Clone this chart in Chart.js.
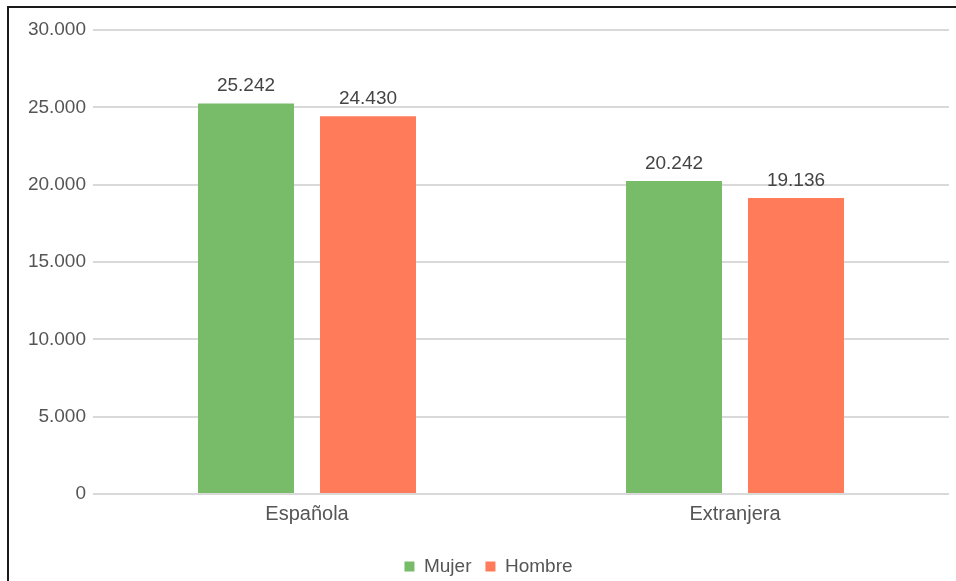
<!DOCTYPE html>
<html>
<head>
<meta charset="utf-8">
<script src="https://cdn.jsdelivr.net/npm/chart.js@4"></script>
<style>
  html, body { margin:0; padding:0; background:#fff; }
  #wrap { position:absolute; left:0; top:0; width:956px; height:581px; }
  #frame { position:absolute; left:7px; top:6px; width:960px; height:600px;
           border-left:2px solid #1a1a1a; border-top:2px solid #1a1a1a; pointer-events:none; }
  canvas { position:absolute; left:0; top:0; }
</style>
</head>
<body>
<div id="wrap">
  <canvas id="c" width="956" height="581"></canvas>
  <div id="frame"></div>
</div>
<script>
const categories = ['Española', 'Extranjera'];
const seriesNames = ['Mujer', 'Hombre'];
const mujer = [25242, 20242];
const hombre = [24430, 19136];
const valueLabels = [['25.242', '20.242'], ['24.430', '19.136']];
const yTickLabels = ['0', '5.000', '10.000', '15.000', '20.000', '25.000', '30.000'];
const colors = ['#78bb68', '#ff7b5a'];

const FONT = '"Liberation Sans", Arial, sans-serif';

const valueLabelPlugin = {
  id: 'valueLabels',
  afterDatasetsDraw(chart) {
    const ctx = chart.ctx;
    ctx.save();
    ctx.font = '19px ' + FONT;
    ctx.fillStyle = '#444444';
    ctx.textAlign = 'center';
    ctx.textBaseline = 'bottom';
    chart.data.datasets.forEach((ds, di) => {
      chart.getDatasetMeta(di).data.forEach((bar, i) => {
        ctx.fillText(valueLabels[di][i], bar.x, bar.y - 8);
      });
    });
    ctx.restore();
  }
};

new Chart(document.getElementById('c'), {
  type: 'bar',
  data: {
    labels: categories,
    datasets: [
      { label: seriesNames[0], data: mujer, backgroundColor: colors[0] },
      { label: seriesNames[1], data: hombre, backgroundColor: colors[1] }
    ]
  },
  options: {
    responsive: false,
    animation: false,
    devicePixelRatio: 1,
    layout: { padding: { left: 28, right: 7, top: 30, bottom: -5 } },
    datasets: { bar: { categoryPercentage: 0.570, barPercentage: 0.787 } },
    plugins: {
      legend: {
        position: 'bottom',
        labels: {
          font: { family: FONT, size: 19 },
          color: '#555555',
          boxWidth: 10,
          boxHeight: 10,
          padding: 14
        }
      },
      tooltip: { enabled: false }
    },
    scales: {
      x: {
        grid: { display: false },
        border: { display: false },
        ticks: { font: { family: FONT, size: 20 }, color: '#555555', padding: 0 },
        afterFit(scale) { scale.height = 49; }
      },
      y: {
        min: 0,
        max: 30000,
        ticks: {
          stepSize: 5000,
          font: { family: FONT, size: 19 },
          color: '#555555',
          padding: 7,
          callback: (v, i) => yTickLabels[i]
        },
        grid: { color: '#d9d9d9', lineWidth: 2, drawTicks: false },
        border: { display: false },
        afterFit(scale) { scale.width = 65; }
      }
    }
  },
  plugins: [valueLabelPlugin]
});
</script>
</body>
</html>
